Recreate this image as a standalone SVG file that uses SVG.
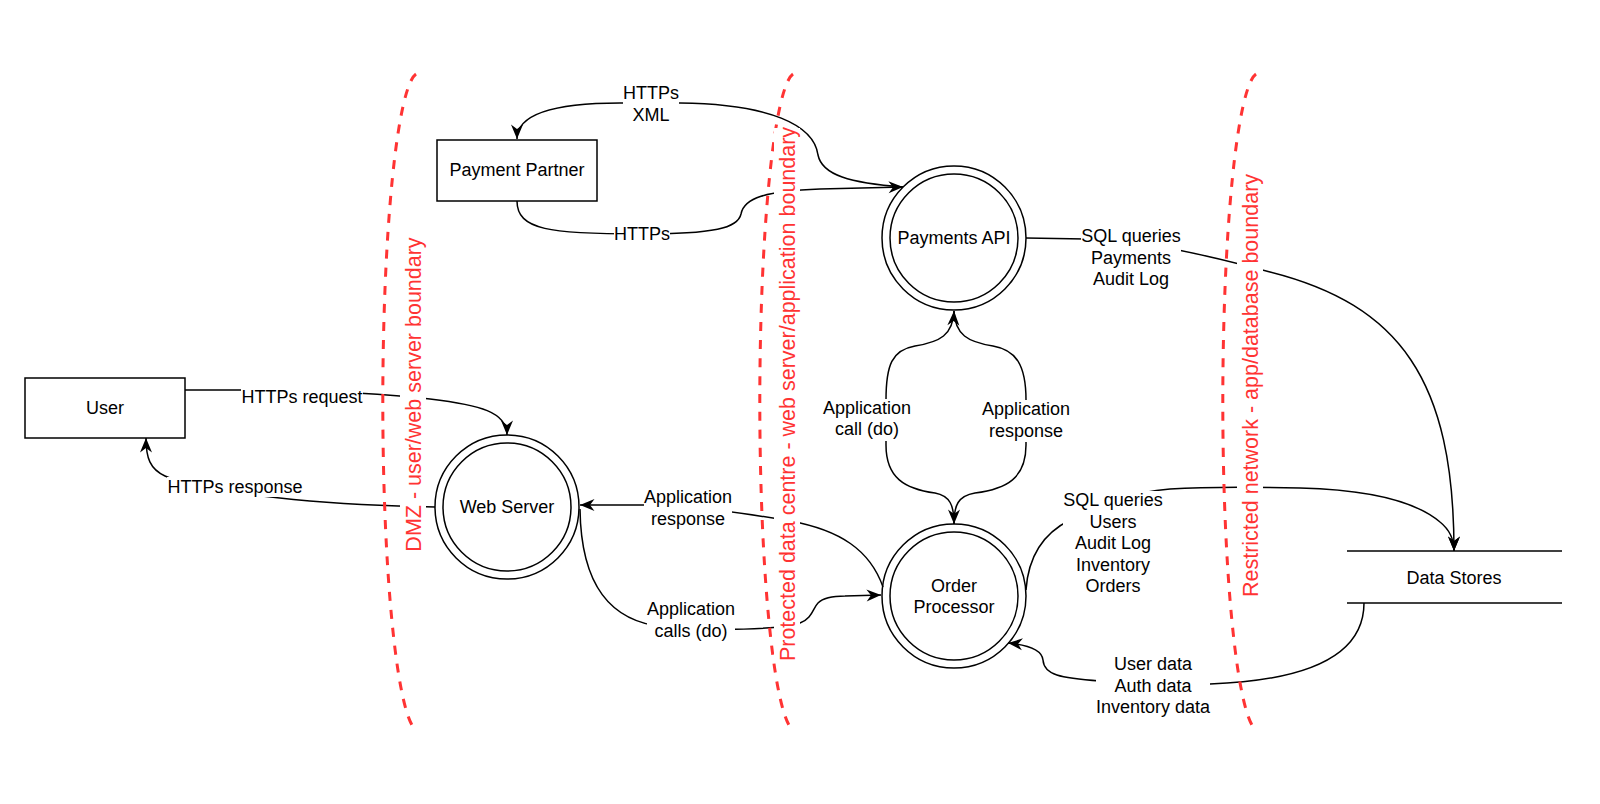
<svg xmlns="http://www.w3.org/2000/svg" width="1600" height="804" viewBox="0 0 1600 804">
<defs>
<style>
.node{fill:#fff;stroke:#000;stroke-width:1.5}
.ln{fill:none;stroke:#000;stroke-width:1.5}
.edge{fill:none;stroke:#000;stroke-width:1.5;marker-end:url(#arrow)}
.t{font-family:"Liberation Sans",Arial,Helvetica,sans-serif;font-size:18px;fill:#000;text-anchor:middle}
.bt{font-family:"Liberation Sans",Arial,Helvetica,sans-serif;font-size:21.5px;fill:#FF3333;text-anchor:middle}
.bg{fill:#fff;stroke:none}
.bd{fill:none;stroke:#FF3333;stroke-width:3;stroke-dasharray:9 9}
</style>
<marker id="arrow" markerUnits="userSpaceOnUse" viewBox="-16 -8 17 16" refX="0" refY="0" markerWidth="17" markerHeight="16" orient="auto">
<path d="M0,0 L-14.5,-6 L-10,0 L-14.5,6 Z" fill="#000"/>
</marker>
</defs>
<rect width="1600" height="804" fill="#fff"/>

<g id="user"><rect class="node" x="25" y="378" width="160" height="60"/><text class="t" x="105" y="414">User</text></g>
<g id="payment-partner"><rect class="node" x="437" y="140" width="160" height="61"/><text class="t" x="517" y="176">Payment Partner</text></g>
<g id="web-server"><circle class="node" cx="507" cy="507" r="72"/><circle class="node" cx="507" cy="507" r="64"/><text class="t" x="507" y="513">Web Server</text></g>
<g id="payments-api"><circle class="node" cx="954" cy="238" r="72"/><circle class="node" cx="954" cy="238" r="64"/><text class="t" x="954" y="244">Payments API</text></g>
<g id="order-processor"><circle class="node" cx="954" cy="596" r="72"/><circle class="node" cx="954" cy="596" r="64"/><text class="t" x="954" y="591.5">Order</text><text class="t" x="954" y="613">Processor</text></g>
<g id="data-stores"><line class="ln" x1="1347" y1="551" x2="1562" y2="551"/><line class="ln" x1="1347" y1="603" x2="1562" y2="603"/><text class="t" x="1454" y="584">Data Stores</text></g>

<g id="connectors">
<g id="e-https-request"><path class="edge" d="M185,390 L250,390 C320,391 380,393 430,399 C480,405 507,412 507,435"/><rect class="bg" x="241" y="388" width="122" height="20"/><text class="t" x="302" y="403">HTTPs request</text></g>
<g id="e-https-response"><path class="edge" d="M435,507 L398,506 C340,504 295,500 262,496 C215,490 180,483 165,476 C150,469 146,458 146,438"/><rect class="bg" x="167" y="477" width="136" height="20"/><text class="t" x="235" y="493">HTTPs response</text></g>
<g id="e-https-xml"><path class="edge" d="M903,187 C850,183 822,175 818,155 C814,125 770,104 680,103 L620,103 C560,103 517,112 517,139"/><rect class="bg" x="623" y="84" width="56" height="42"/><text class="t" x="651" y="99">HTTPs</text><text class="t" x="651" y="121">XML</text></g>
<g id="e-https"><path class="edge" d="M517,201 C517,230 550,234 640,234 C715,234 738,228 741,214 C744,198 765,191 820,189 L903,187"/><rect class="bg" x="614" y="225" width="56" height="20"/><text class="t" x="642" y="240">HTTPs</text></g>
<g id="e-pa-ds"><path class="edge" d="M1026,238 L1085,239 C1150,241 1210,256 1270,272 C1400,305 1454,380 1454,551"/><rect class="bg" x="1081" y="227" width="100" height="63"/><text class="t" x="1131" y="242">SQL queries</text><text class="t" x="1131" y="263.6">Payments</text><text class="t" x="1131" y="285.2">Audit Log</text></g>
<g id="e-op-ds"><path class="edge" d="M1026,590 C1028,560 1040,535 1070,520 C1100,505 1130,492 1170,489 C1200,487 1260,487 1300,488 C1380,490 1420,505 1440,522 C1450,530 1454,540 1454,551"/><rect class="bg" x="1063" y="491" width="100" height="106"/><text class="t" x="1113" y="506">SQL queries</text><text class="t" x="1113" y="527.6">Users</text><text class="t" x="1113" y="549.2">Audit Log</text><text class="t" x="1113" y="570.8">Inventory</text><text class="t" x="1113" y="592.4">Orders</text></g>
<g id="e-ds-op"><path class="edge" d="M1364,603 C1364,650 1320,680 1210,684 L1100,681 C1060,678 1044,675 1043,660 C1042,650 1030,645 1008,643"/><rect class="bg" x="1096" y="655" width="114" height="63"/><text class="t" x="1153" y="670">User data</text><text class="t" x="1153" y="691.6">Auth data</text><text class="t" x="1153" y="713.2">Inventory data</text></g>
<g id="e-app-response-ws"><path class="edge" d="M883,587 C870,550 840,530 790,521 C750,514 700,506 650,505 L580,505"/><rect class="bg" x="644" y="488" width="88" height="42"/><text class="t" x="688" y="503">Application</text><text class="t" x="688" y="524.5">response</text></g>
<g id="e-app-calls"><path class="edge" d="M580,509 C581,585 610,622 665,627 C720,631 775,630 800,623 C812,619 813,608 818,603 C823,598 832,596 845,596 L881,595"/><rect class="bg" x="647" y="600" width="88" height="42"/><text class="t" x="691" y="615">Application</text><text class="t" x="691" y="637">calls (do)</text></g>
<g id="e-app-call-pa"><path class="edge" d="M954,524 C954,505 950,496 935,493 C905,489 886,478 886,445 L886,400 C886,365 892,350 915,346 C940,342 953,335 954,311"/><rect class="bg" x="823" y="399" width="88" height="42"/><text class="t" x="867" y="413.5">Application</text><text class="t" x="867" y="435">call (do)</text></g>
<g id="e-app-response-pa"><path class="edge" d="M954,311 C955,335 968,342 993,346 C1016,350 1026,365 1026,400 L1026,445 C1026,478 1007,489 975,493 C958,496 954,505 954,524"/><rect class="bg" x="982" y="400" width="88" height="42"/><text class="t" x="1026" y="415">Application</text><text class="t" x="1026" y="436.5">response</text></g>
</g>

<g id="boundary-dmz"><path class="bd" d="M416,74 A36,329 0 0 0 416,730"/><rect class="bg" x="400" y="237" width="26" height="315"/><text class="bt" transform="translate(413,394.5) rotate(-90)" y="7.5">DMZ - user/web server boundary</text></g>
<g id="boundary-protected"><path class="bd" d="M793,74 A36,329 0 0 0 793,730"/><rect class="bg" x="774" y="128" width="26" height="533"/><text class="bt" transform="translate(787,394) rotate(-90)" y="7.5">Protected data centre - web server/application boundary</text></g>
<g id="boundary-restricted"><path class="bd" d="M1256,74 A36,329 0 0 0 1256,730"/><rect class="bg" x="1237" y="174" width="26" height="423"/><text class="bt" transform="translate(1250,385.5) rotate(-90)" y="7.5">Restricted network - app/database boundary</text></g>
</svg>
